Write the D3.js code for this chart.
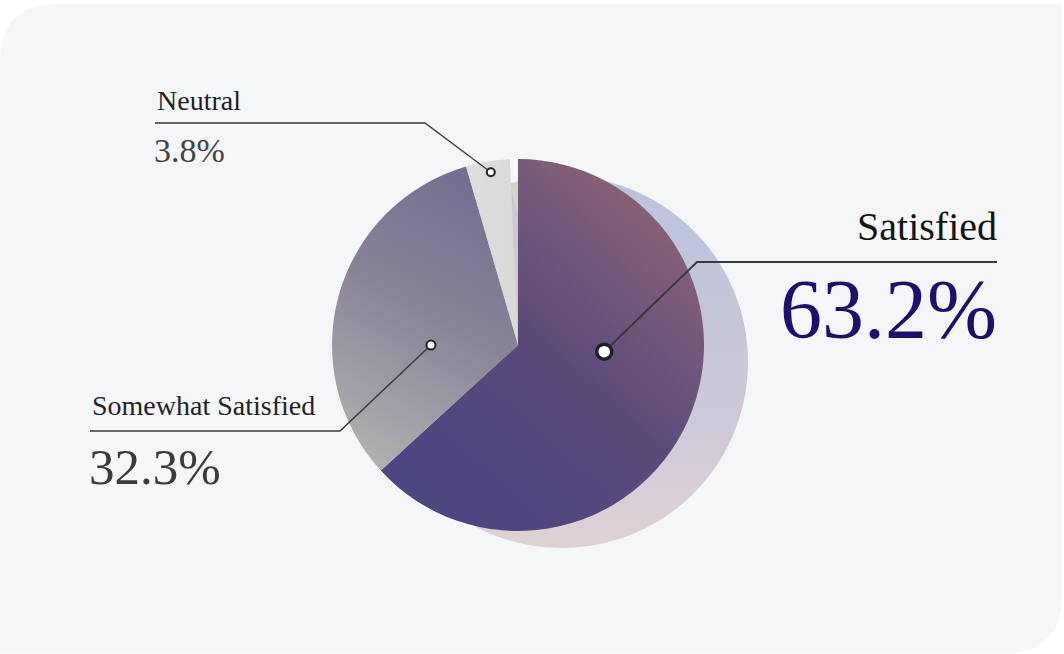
<!DOCTYPE html>
<html>
<head>
<meta charset="utf-8">
<script src="https://cdn.jsdelivr.net/npm/d3@7"></script>
<style>
  html, body { margin: 0; padding: 0; background: #ffffff; }
  svg { display: block; }
</style>
</head>
<body>
<svg id="chart" width="1064" height="654"></svg>
<script>
// ---- data ----
const categories = ["Satisfied", "Somewhat Satisfied", "Neutral"];
const values = [63.2, 32.3, 3.8];
const total = 100; // remainder left empty

// ---- layout / style ----
const W = 1064, H = 654;
const cx = 518, cy = 345, R = 186;
const shadowOffset = [44, 17];
const sx = cx + shadowOffset[0], sy = cy + shadowOffset[1];
const FONT = "'Liberation Serif', 'Times New Roman', serif";

const svg = d3.select("#chart");
const defs = svg.append("defs");

// background: rounded top-left and bottom-right corners
const bx0 = 0, by0 = 4, bx1 = 1062, by1 = 653, rc = 58;
svg.append("path")
  .attr("d", `M${bx0},${by0 + rc} Q${bx0},${by0} ${bx0 + rc},${by0} L${bx1},${by0} L${bx1},${by1 - rc} Q${bx1},${by1} ${bx1 - rc},${by1} L${bx0},${by1} Z`)
  .attr("fill", "#f5f6f8");

// gradients given in page coordinates, converted to the group's local space (ox, oy)
function lin(id, ox, oy, x1, y1, x2, y2, stops) {
  const g = defs.append("linearGradient").attr("id", id)
    .attr("gradientUnits", "userSpaceOnUse")
    .attr("x1", x1 - ox).attr("y1", y1 - oy).attr("x2", x2 - ox).attr("y2", y2 - oy);
  stops.forEach(s => g.append("stop").attr("offset", s[0]).attr("stop-color", s[1]));
}
lin("gSat", cx, cy, 700, 175, 420, 485, [[0, "#966870"], [0.3, "#75597a"], [0.55, "#5b4a79"], [1, "#4c4681"]]);
lin("gSome", cx, cy, 500, 175, 350, 450, [[0, "#726b90"], [0.5, "#8a8498"], [1, "#b0b0b0"]]);
lin("gNeu", cx, cy, 470, 160, 515, 160, [[0, "#dededd"], [1, "#d9d9d6"]]);
lin("gSatSh", sx, sy, 600, 185, 600, 548, [[0, "#b9c5dd"], [0.35, "#c5c6da"], [0.7, "#d0cad8"], [1, "#e0d2d4"]]);
lin("gSomeSh", sx, sy, 0, 180, 0, 545, [[0, "#c9c8cf"], [1, "#d4d0d3"]]);
lin("gNeuSh", sx, sy, 0, 180, 0, 360, [[0, "#d4d2c6"], [1, "#e8e6de"]]);

const fills = ["url(#gSat)", "url(#gSome)", "url(#gNeu)"];
const shadowFills = ["url(#gSatSh)", "url(#gSomeSh)", "url(#gNeuSh)"];

// pie angles from data, out of 100
const angle = d3.scaleLinear().domain([0, total]).range([0, 2 * Math.PI]);
const cum = d3.cumsum(values);
const slices = values.map((v, i) => ({
  name: categories[i], value: v,
  startAngle: angle(cum[i] - v), endAngle: angle(cum[i])
}));

const arc = d3.arc().innerRadius(0).outerRadius(R);

// shadow copies
svg.append("g").attr("transform", `translate(${sx},${sy})`)
  .selectAll("path").data(slices).join("path")
  .attr("d", arc).attr("fill", (d, i) => shadowFills[i]);

// main slices
svg.append("g").attr("transform", `translate(${cx},${cy})`)
  .selectAll("path").data(slices).join("path")
  .attr("d", arc).attr("fill", (d, i) => fills[i]);

// ---- labels ----
// anchor: fraction along slice angle, fraction of radius
const labelLayout = [
  { t: 0.415, rf: 0.465, dotR: 7.5, dotSW: 3.5, elbow: [697, 262], end: 997, anchor: "end",
    nameY: 240, nameSize: 40, nameFill: "#141414", valY: 338, valSize: 84, valFill: "#1b1070", lineW: 2 },
  { t: 0.365, rf: 0.468, dotR: 4.5, dotSW: 2, elbow: [340, 431], end: 90, anchor: "start",
    nameY: 415, nameSize: 28, nameFill: "#222222", valY: 484, valSize: 51, valFill: "#3b3b3b", lineW: 1.5 },
  { t: 0.53, rf: 0.94, dotR: 4, dotSW: 2, elbow: [425, 123], end: 155, anchor: "start",
    nameY: 110, nameSize: 28, nameFill: "#1e1e1e", valY: 162, valSize: 34, valFill: "#444444", lineW: 1.3 }
];

const fmt = d3.format(".1f");
const lab = svg.append("g");
slices.forEach((s, i) => {
  const L = labelLayout[i];
  const a = s.startAngle + L.t * (s.endAngle - s.startAngle);
  const px = cx + Math.sin(a) * R * L.rf;
  const py = cy - Math.cos(a) * R * L.rf;
  lab.append("path")
    .attr("d", d3.line()([[px, py], L.elbow, [L.end, L.elbow[1]]]))
    .attr("fill", "none").attr("stroke", "#3a3a3a").attr("stroke-width", L.lineW);
  lab.append("circle").attr("cx", px).attr("cy", py).attr("r", L.dotR)
    .attr("fill", "#ffffff").attr("stroke", "#222222").attr("stroke-width", L.dotSW);
  const tx = L.anchor === "end" ? L.end : L.end + 2;
  lab.append("text").attr("x", tx).attr("y", L.nameY)
    .attr("font-family", FONT)
    .attr("text-anchor", L.anchor).attr("font-size", L.nameSize).attr("fill", L.nameFill)
    .text(s.name);
  lab.append("text").attr("x", L.anchor === "end" ? L.end : L.end - 1).attr("y", L.valY)
    .attr("font-family", FONT)
    .attr("text-anchor", L.anchor).attr("font-size", L.valSize).attr("fill", L.valFill)
    .text(fmt(s.value) + "%");
});
</script>
</body>
</html>
